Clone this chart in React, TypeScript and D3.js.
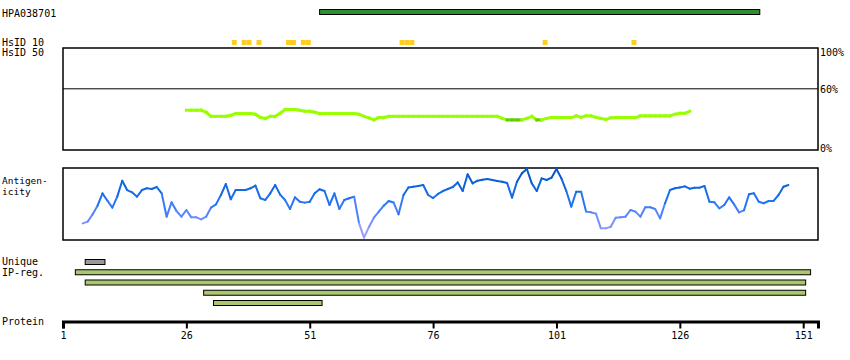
import React, { useRef, useEffect } from 'react';
import * as d3 from 'd3';

// protein / antibody info
const antibodyName = 'HPA038701';
const proteinLength = 153;
const proteinTicks = [1, 26, 51, 76, 101, 126, 151];
const antigenRange = [53, 142];

// residues with 10% identity hits (HsID 10)
const hsid10Residues = [35, 37, 38, 40, 46, 47, 49, 50, 69, 70, 71, 98, 116];

// identity (%) per residue, starting at residue 26
const identityStart = 26;
const identityValues = [
  39, 39, 39, 39, 37, 33, 33, 33, 33, 34,
  35.7, 35.7, 35.7, 35.7, 35, 32, 31, 33, 33, 36,
  39.7, 39.7, 39.7, 39, 38, 38, 37, 35.7, 35.7, 35.7,
  35.7, 35.7, 35.7, 35.7, 35.7, 35, 33, 31.5, 29.5, 31.8,
  31.8, 33, 33, 33, 33, 33, 33, 33, 33, 33,
  33, 33, 33, 33, 33, 33, 33, 33, 33, 33,
  33, 33, 33, 33, 31, 29.5, 29.5, 29.5, 29.5, 31,
  33, 29.5, 29.5, 31, 31.8, 31.8, 31.8, 31.8, 31.8, 33.5,
  32, 33.5, 33.5, 32, 31, 30, 31.5, 31.8, 31.8, 31.8,
  31.8, 31.8, 33.5, 33.5, 33.5, 33.5, 33.5, 33.5, 33.5, 35,
  36, 36, 38,
];
const identityTickValues = [100, 60, 0];
const identityThreshold = 60;

// antigenicity (relative, 0-100) per residue, starting at residue 5
const antigenicityStart = 5;
const antigenicityValues = [
  23.1, 25.5, 35.6, 47.7, 64.8, 54.6, 45, 60.2, 82.4, 69.4,
  66.2, 60.2, 69.4, 71.8, 70.8, 73.6, 64.8, 32.4, 52.3, 40.3,
  32.4, 41.7, 31.5, 31.5, 28.7, 32.4, 45, 49.5, 62.5, 77.8,
  56.5, 69.4, 69.4, 69.4, 71.8, 75.5, 57.9, 55.6, 64.8, 76.4,
  63, 55.6, 43, 59.3, 53.2, 51.9, 53, 64.8, 70.4, 68,
  48.6, 64.8, 43, 55.6, 57.9, 60.2, 23, 3.2, 18, 31,
  39.4, 47.7, 54.2, 52, 35.6, 62.5, 73, 74, 75, 76.4,
  62.5, 58.3, 64, 68, 70.8, 73.6, 80, 68, 91.2, 78.7,
  82.4, 83.8, 84.7, 83.3, 82, 81, 79.2, 58.8, 81, 92.6,
  98.6, 78.7, 68, 85.6, 83.3, 86.6, 98.6, 85.6, 68, 46.3,
  67.1, 67.1, 39.4, 38.4, 36.6, 16.2, 16.2, 18.5, 31, 31.5,
  32.4, 41.7, 39.4, 32.4, 45.4, 45.4, 43, 30, 51, 69.4,
  71.8, 73, 74.5, 71.3, 72.7, 72.7, 75, 53.2, 52.3, 44,
  48.6, 59.3, 49.5, 38.4, 41.2, 63.4, 64.8, 53.2, 51, 54.2,
  54.2, 62.5, 74, 76.4,
];

// region bars (start, end residue)
const uniqueRegions = [[5, 9]];
const ipRegions = [[3, 152], [5, 151], [29, 151], [31, 53]];

const W = 850;
const H = 360;
const FONT = '"DejaVu Sans Mono", monospace';

const App: React.FC = () => {
  const axisRef = useRef<SVGGElement>(null);

  const x = d3.scaleLinear().domain([1, proteinLength + 1]).range([63, 818]);
  const yId = d3.scaleLinear().domain([0, 100]).range([150, 48]);
  const yAg = d3.scaleLinear().domain([0, 100]).range([240, 168]);

  const agColor = d3.scaleLinear<string>()
    .domain([0, 30, 55, 100])
    .range(['#b0a8ff', '#6f8cff', '#1f74f5', '#0052c0']);

  useEffect(() => {
    if (!axisRef.current) return;
    const g = d3.select(axisRef.current);
    g.selectAll('*').remove();
    g.call(
      d3.axisBottom(x)
        .tickValues(proteinTicks)
        .tickFormat(d3.format('d'))
        .tickSize(7)
        .tickSizeOuter(7)
        .tickPadding(3)
    );
    g.select('.domain').attr('stroke-width', 3).attr('stroke', '#000');
    g.selectAll('.tick line').attr('stroke-width', 2).attr('stroke', '#000');
    g.selectAll('.tick text')
      .attr('font-family', FONT)
      .attr('font-size', 10)
      .attr('fill', '#000');
  }, []);

  const idSegments = identityValues.slice(1).map((v, i) => {
    const r0 = identityStart + i;
    const v0 = identityValues[i];
    return { x1: x(r0), y1: yId(v0), x2: x(r0 + 1), y2: yId(v), low: v0 < 30 && v < 30 };
  });

  const agSegments = antigenicityValues.slice(1).map((v, i) => {
    const r0 = antigenicityStart + i;
    const v0 = antigenicityValues[i];
    return { x1: x(r0), y1: yAg(v0), x2: x(r0 + 1), y2: yAg(v), c: agColor((v0 + v) / 2) };
  });

  const barY0 = 259.5;
  const barStep = 10.25;

  return (
    <svg width={W} height={H} style={{ position: 'absolute', left: 0, top: 0, background: '#fff' }}
      fontFamily={FONT} fontSize={10}>
      {/* antibody / antigen */}
      <text x={2} y={17}>{antibodyName}</text>
      <rect x={x(antigenRange[0])} y={9.5} width={x(antigenRange[1]) - x(antigenRange[0]) + 1} height={5}
        fill="#2f8f2f" stroke="#000" strokeWidth={1} />

      {/* HsID */}
      <text x={2} y={46}>HsID 10</text>
      <text x={2} y={56}>HsID 50</text>
      {hsid10Residues.map((r, i) => (
        <rect key={i} x={x(r) + 1} y={40} width={x(r + 1) - x(r)} height={5} fill="#ffcc22" />
      ))}

      {/* identity panel */}
      <rect x={63} y={48} width={755} height={102} fill="none" stroke="#000" strokeWidth={1.5} />
      <line x1={63} x2={818} y1={yId(identityThreshold)} y2={yId(identityThreshold)} stroke="#000" strokeWidth={1} />
      {identityTickValues.map(v => (
        <text key={v} x={820} y={yId(v) + (v === 100 ? 8 : v === 0 ? 2 : 4)}>{v}%</text>
      ))}
      {idSegments.map((s, i) => (
        <line key={i} x1={s.x1} y1={s.y1} x2={s.x2} y2={s.y2}
          stroke={s.low ? '#66cc00' : '#99ff00'} strokeWidth={3} strokeLinecap="square" />
      ))}

      {/* antigenicity panel */}
      <text x={2} y={184} fontSize={9.5}>Antigen-</text>
      <text x={2} y={195} fontSize={9.5}>icity</text>
      <rect x={63} y={168} width={755} height={72} fill="none" stroke="#000" strokeWidth={1.5} />
      {agSegments.map((s, i) => (
        <line key={i} x1={s.x1} y1={s.y1} x2={s.x2} y2={s.y2}
          stroke={s.c} strokeWidth={2} strokeLinecap="round" />
      ))}

      {/* unique / IP regions */}
      <text x={2} y={265}>Unique</text>
      <text x={2} y={276}>IP-reg.</text>
      {uniqueRegions.map(([s, e], i) => (
        <rect key={'u' + i} x={x(s + 0.5)} y={barY0} width={x(e + 0.5) - x(s + 0.5)} height={5}
          fill="#999999" stroke="#000" strokeWidth={1} />
      ))}
      {ipRegions.map(([s, e], i) => (
        <rect key={'ip' + i} x={x(s + 0.5)} y={barY0 + barStep * (i + 1)} width={x(e + 0.5) - x(s + 0.5)} height={5}
          fill="#aac66e" stroke="#000" strokeWidth={1} />
      ))}

      {/* protein axis */}
      <text x={2} y={325}>Protein</text>
      <g ref={axisRef} transform="translate(0,321.5)" />
    </svg>
  );
};

export default App;
